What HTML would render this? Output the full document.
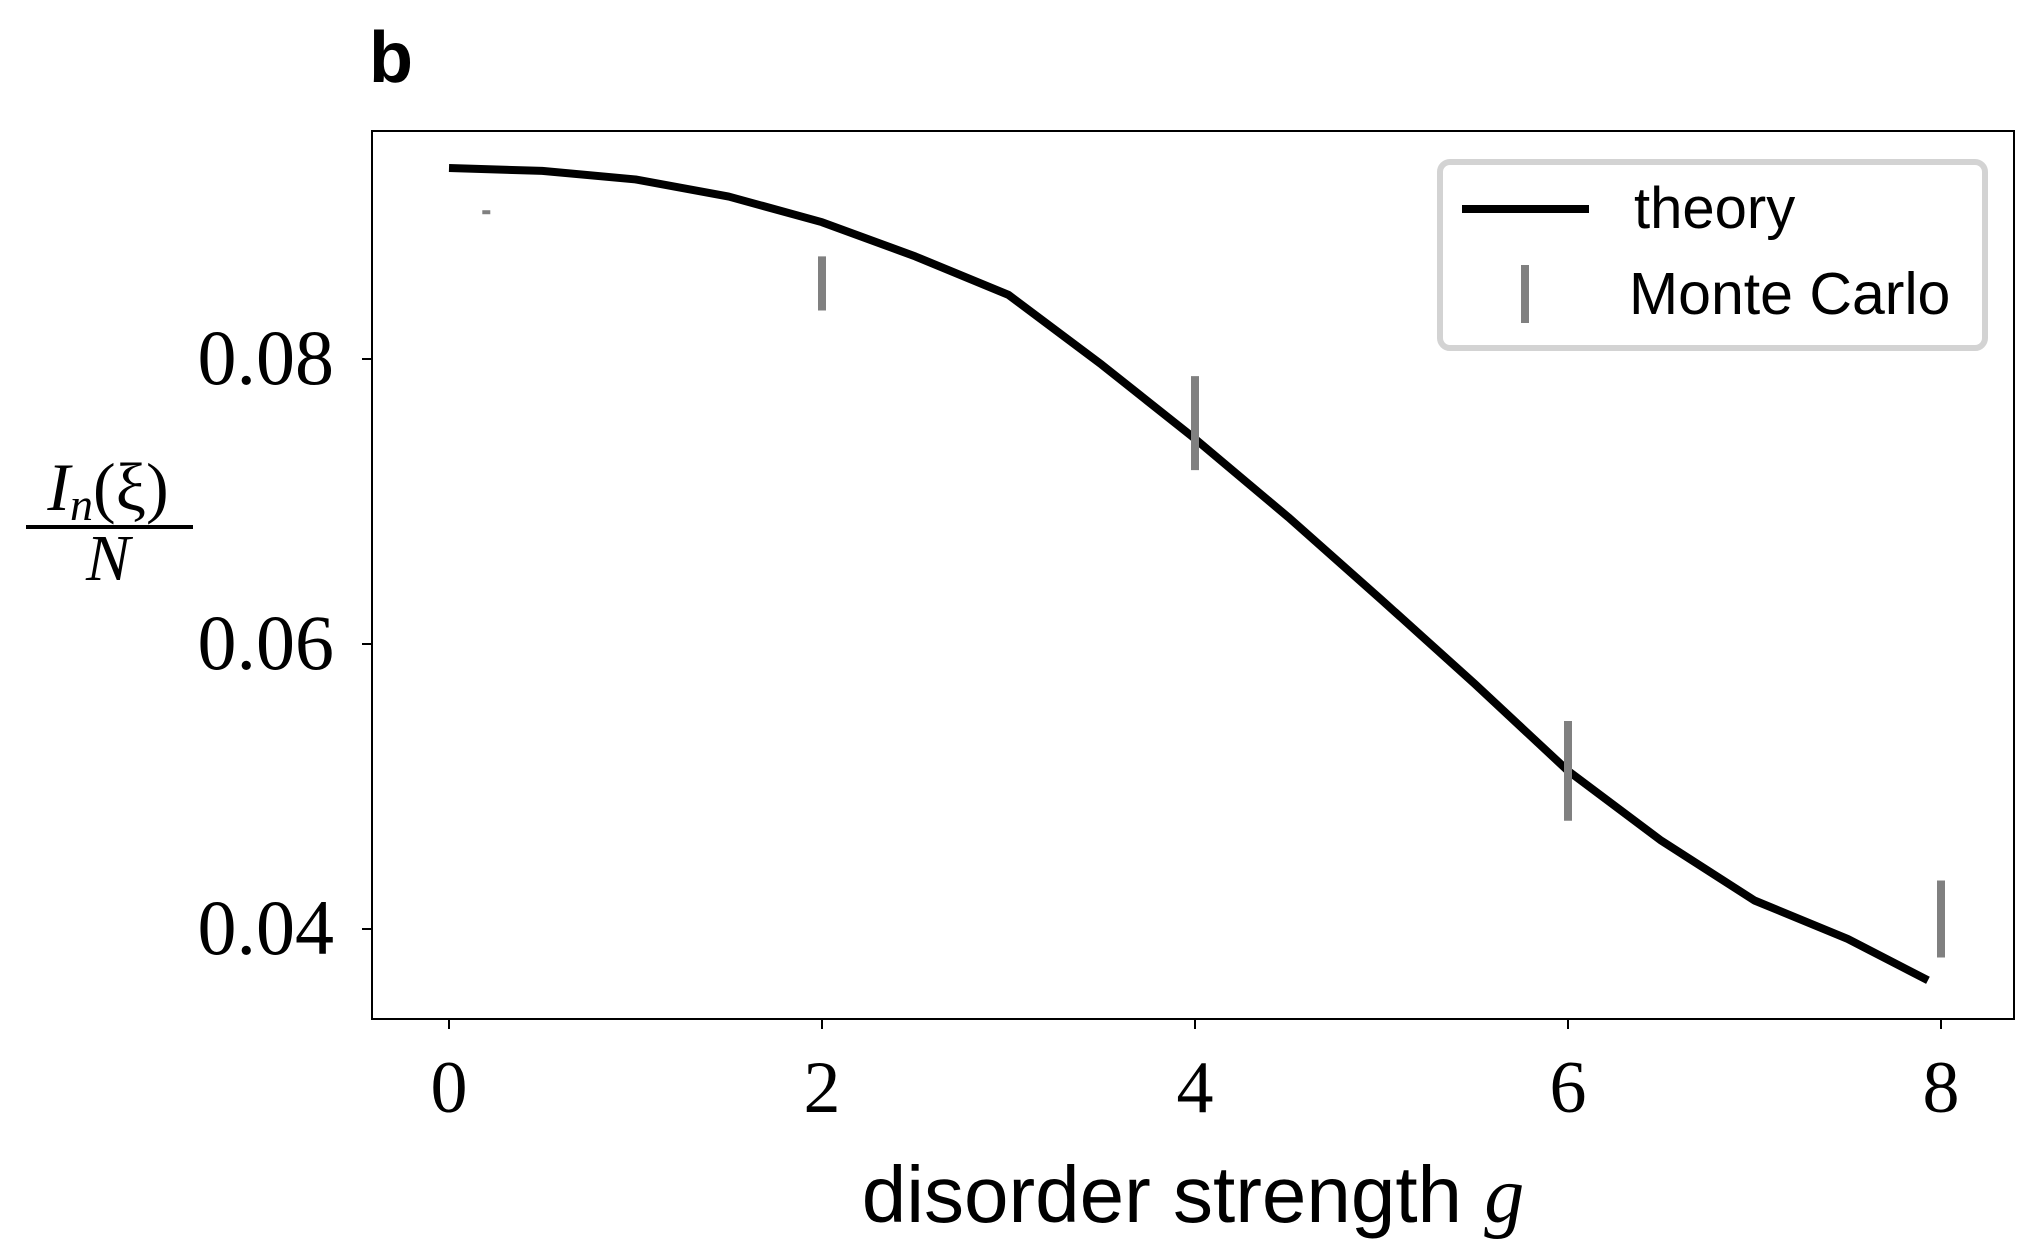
<!DOCTYPE html>
<html><head><meta charset="utf-8"><style>
html,body{margin:0;padding:0;background:#fff;}
svg{display:block;}
text{font-family:"Liberation Serif",serif;}
</style></head><body>
<svg id="chart" width="2040" height="1260" viewBox="0 0 2040 1260">
<text x="369" y="82" font-weight="bold" font-size="72" style="font-family:'Liberation Sans',sans-serif">b</text>
<rect x="372" y="131" width="1642" height="888" fill="none" stroke="#000" stroke-width="2"/>
<g id="xticks"></g>
<g id="yticks"></g>
<g id="series"></g>
<text x="1193" y="1222" font-size="80" text-anchor="middle" style="font-family:'Liberation Sans',sans-serif">disorder strength <tspan font-style="italic" style="font-family:'Liberation Serif',serif">g</tspan></text>
<g>
<text x="108" y="510" font-size="68" font-style="italic" text-anchor="middle">I<tspan font-size="46" dy="10">n</tspan><tspan dy="-10" font-style="normal">(ξ)</tspan></text>
<line x1="26" y1="527" x2="193" y2="527" stroke="#000" stroke-width="4"/>
<text x="108" y="580" font-size="66" font-style="italic" text-anchor="middle">N</text>
</g>
<g transform="translate(-9,0)">
<rect x="1449" y="162" width="545" height="186" rx="10" fill="#fff" stroke="#d3d3d3" stroke-width="6"/>
<line x1="1471" y1="209" x2="1598" y2="209" stroke="#000" stroke-width="8"/>
<text x="1643" y="228" font-size="58" style="font-family:'Liberation Sans',sans-serif">theory</text>
<line x1="1534" y1="265" x2="1534" y2="323" stroke="#808080" stroke-width="8"/>
<text x="1638" y="314" font-size="59" style="font-family:'Liberation Sans',sans-serif">Monte Carlo</text>
</g>
</svg>
<script>
const theoryG = [0,0.5,1,1.5,2,2.5,3,3.5,4,4.5,5,5.5,6,6.5,7,7.5,7.93];
const theoryV = [0.0934,0.0932,0.0926,0.0914,0.0896,0.0872,0.0845,0.0796,0.0744,0.0689,0.0631,0.0572,0.0511,0.0462,0.0420,0.0393,0.0364];
const mcG = [0.2,2,4,6,8];
const mcV = [0.0903,0.0853,0.0755,0.0511,0.0407];
const mcErr = [0.0001,0.0019,0.0033,0.0035,0.0027];
const xTicks = [0,2,4,6,8];
const yTicks = [0.04,0.06,0.08];
const yTickLabels = ["0.04","0.06","0.08"];
const NS="http://www.w3.org/2000/svg";
function xs(g){return 449+g*186.5;}
function ys(v){return 359+(0.08-v)/0.02*285;}
function mk(t,a,p){const e=document.createElementNS(NS,t);for(const k in a)e.setAttribute(k,a[k]);p.appendChild(e);return e;}
const xg=document.getElementById('xticks'),yg=document.getElementById('yticks'),sg=document.getElementById('series');
xTicks.forEach(t=>{
 const l=mk('line',{x1:xs(t),x2:xs(t),y1:1019,y2:1029,stroke:'#000','stroke-width':2},xg);
 
 
 const tx=mk('text',{x:xs(t),y:1112,'font-size':74,'text-anchor':'middle'},xg);
 tx.textContent=String(t);
 
 
});
yTicks.forEach((t,i)=>{
 const l=mk('line',{x1:362,x2:372,y1:ys(t),y2:ys(t),stroke:'#000','stroke-width':2},yg);
 
 
 const tx=mk('text',{x:334,y:ys(t)+25,'font-size':78,'text-anchor':'end'},yg);
 tx.textContent=yTickLabels[i];
 
 
});
const pts=theoryG.map((g,i)=>xs(g)+','+ys(theoryV[i])).join(' ');
const pl=mk('polyline',{points:pts,fill:'none',stroke:'#000','stroke-width':8,'stroke-linejoin':'round'},sg);


mcG.forEach((g,i)=>{
 let y1=ys(mcV[i]+mcErr[i]),y2=ys(mcV[i]-mcErr[i]);
 if(y2-y1<4){const c=(y1+y2)/2;y1=c-2;y2=c+2;}
 const b=mk('line',{x1:xs(g),x2:xs(g),y1:y1,y2:y2,stroke:'#808080','stroke-width':8},sg);
 
 
});
</script>
</body></html>
